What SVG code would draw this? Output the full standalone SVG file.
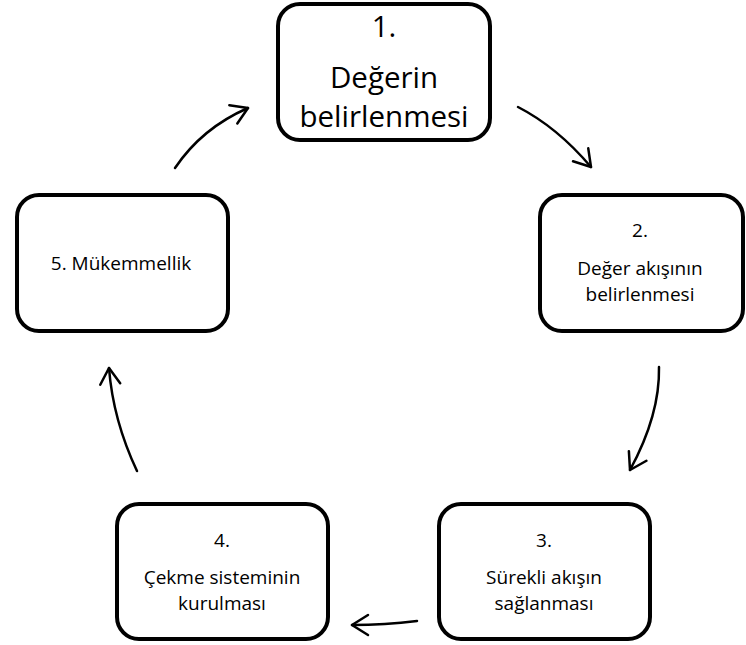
<svg xmlns="http://www.w3.org/2000/svg" width="746" height="645" viewBox="0 0 746 645">
  <style>
    .box { fill: #ffffff; stroke: #000000; stroke-width: 4; }
    .lbl { font-family: "Open Sans", "Noto Sans", sans-serif; fill: #000000; text-anchor: middle; }
    .big { font-size: 29.5px; }
    .sm { font-size: 19px; }
    .conn { fill: none; stroke: #000000; stroke-width: 2.5; stroke-linecap: round; }
    .head { fill: none; stroke: #000000; stroke-width: 2.5; stroke-linecap: round; stroke-linejoin: round; }
  </style>
  <defs>
    <marker id="arrow" markerUnits="userSpaceOnUse" markerWidth="40" markerHeight="40" refX="0" refY="0" orient="auto" overflow="visible">
      <path class="head" d="M-16,-10 L0,0 L-16,10"/>
    </marker>
  </defs>
  <rect width="746" height="645" fill="#ffffff"/>

  <g id="node1">
    <rect class="box" x="278" y="4" width="212" height="136" rx="22" ry="22"/>
    <text class="lbl big" x="384" y="37">1.</text>
    <text class="lbl big" x="384" y="88">Değerin</text>
    <text class="lbl big" x="384" y="127">belirlenmesi</text>
  </g>

  <g id="node2">
    <rect class="box" x="540" y="195" width="203" height="136" rx="22" ry="22"/>
    <text class="lbl sm" x="640" y="237">2.</text>
    <text class="lbl sm" x="640" y="275">Değer akışının</text>
    <text class="lbl sm" x="640" y="301">belirlenmesi</text>
  </g>

  <g id="node3">
    <rect class="box" x="439" y="504" width="211" height="135" rx="22" ry="22"/>
    <text class="lbl sm" x="544" y="547">3.</text>
    <text class="lbl sm" x="544" y="584">Sürekli akışın</text>
    <text class="lbl sm" x="544" y="610">sağlanması</text>
  </g>

  <g id="node4">
    <rect class="box" x="117" y="504" width="211" height="135" rx="22" ry="22"/>
    <text class="lbl sm" x="222" y="547">4.</text>
    <text class="lbl sm" x="222" y="584">Çekme sisteminin</text>
    <text class="lbl sm" x="222" y="610">kurulması</text>
  </g>

  <g id="node5">
    <rect class="box" x="17" y="195" width="211" height="136" rx="22" ry="22"/>
    <text class="lbl sm" x="121" y="270">5. Mükemmellik</text>
  </g>

  <g id="connectors">
    <path class="conn" d="M518,107 Q557,127 591,167" marker-end="url(#arrow)"/>
    <path class="conn" d="M659,367 Q660,415 630,470" marker-end="url(#arrow)"/>
    <path class="conn" d="M417,621 Q385,625 352,625" marker-end="url(#arrow)"/>
    <path class="conn" d="M137,471 Q113,420 109,368" marker-end="url(#arrow)"/>
    <path class="conn" d="M175,168 Q202,128 248,108" marker-end="url(#arrow)"/>
  </g>
</svg>
